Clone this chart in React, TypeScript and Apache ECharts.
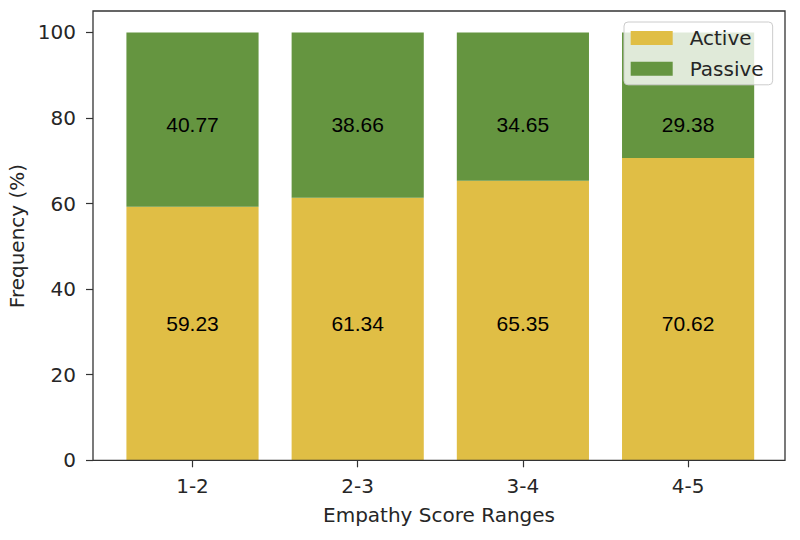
import React, { useEffect, useRef } from "react";
import * as echarts from "echarts";

const categories = ["1-2", "2-3", "3-4", "4-5"];
const activeValues = [59.23, 61.34, 65.35, 70.62];
const passiveValues = [40.77, 38.66, 34.65, 29.38];
const yTicks = [0, 20, 40, 60, 80, 100];

const YELLOW = "#E0BE45";
const GREEN = "#659540";
const TEXT = "#262626";
const AXIS = "#333333";
const SANS = "DejaVu Sans";

export default function App() {
  const ref = useRef<HTMLDivElement>(null);
  useEffect(() => {
    const chart = echarts.init(ref.current!, null, { renderer: "svg" });
    chart.setOption({
      animation: false,
      backgroundColor: "#ffffff",
      grid: { left: 109.9, right: 29.3, top: 11, bottom: 79.7, containLabel: false },
      xAxis: {
        type: "category",
        data: categories,
        axisLine: { show: false },
        axisTick: { show: true, alignWithLabel: true, length: 7, lineStyle: { color: AXIS, width: 1.2 } },
        axisLabel: { margin: 16, fontFamily: SANS, fontSize: 20, lineHeight: 20, color: TEXT },
        splitLine: { show: false },
      },
      yAxis: {
        type: "value",
        min: 0,
        max: 105,
        offset: 16.9,
        axisLine: { show: false },
        axisTick: { show: true, length: 7, customValues: yTicks, lineStyle: { color: AXIS, width: 1.2 } },
        axisLabel: { customValues: yTicks, margin: 17, fontFamily: SANS, fontSize: 20, color: TEXT },
        splitLine: { show: false },
      },
      legend: {
        orient: "vertical",
        left: 624,
        top: 22,
        padding: [6, 9, 6, 6.7],
        itemWidth: 42,
        itemHeight: 14,
        itemGap: 10.8,
        icon: "rect",
        backgroundColor: "rgba(255,255,255,0.8)",
        borderColor: "#cccccc",
        borderWidth: 1,
        borderRadius: 4,
        textStyle: { fontFamily: SANS, fontSize: 20, lineHeight: 20, color: TEXT, padding: [0, 0, 0, 12] },
        data: ["Active", "Passive"],
      },
      series: [
        {
          name: "Active",
          type: "bar",
          stack: "total",
          data: activeValues,
          barWidth: "80%",
          itemStyle: { color: YELLOW },
          label: {
            show: true,
            position: "insideBottom",
            distance: 126.5,
            formatter: (p: any) => Number(p.value).toFixed(2),
            fontFamily: "Liberation Sans",
            fontSize: 21,
            lineHeight: 21,
            color: "#000000",
          },
        },
        {
          name: "Passive",
          type: "bar",
          stack: "total",
          data: passiveValues,
          barWidth: "80%",
          itemStyle: { color: GREEN },
          label: {
            show: true,
            position: "insideTop",
            distance: 81.5,
            formatter: (p: any) => Number(p.value).toFixed(2),
            fontFamily: "Liberation Sans",
            fontSize: 21,
            lineHeight: 21,
            color: "#000000",
          },
        },
      ],
      graphic: [
        {
          type: "rect",
          silent: true,
          z: 100,
          shape: { x: 93, y: 11, width: 692, height: 449.3 },
          style: { fill: "none", stroke: AXIS, lineWidth: 1.3 },
        },
        {
          type: "text",
          silent: true,
          x: 17,
          y: 236,
          rotation: Math.PI / 2,
          style: {
            text: "Frequency (%)",
            fontFamily: SANS,
            fontSize: 20,
            fill: TEXT,
            align: "center",
            verticalAlign: "middle",
          },
        },
        {
          type: "text",
          silent: true,
          x: 439,
          y: 515,
          style: {
            text: "Empathy Score Ranges",
            fontFamily: SANS,
            fontSize: 20,
            fill: TEXT,
            align: "center",
            verticalAlign: "middle",
          },
        },
      ],
    });
    return () => chart.dispose();
  }, []);
  return <div ref={ref} style={{ position: "absolute", left: 0, top: 0, width: 800, height: 540 }} />;
}
